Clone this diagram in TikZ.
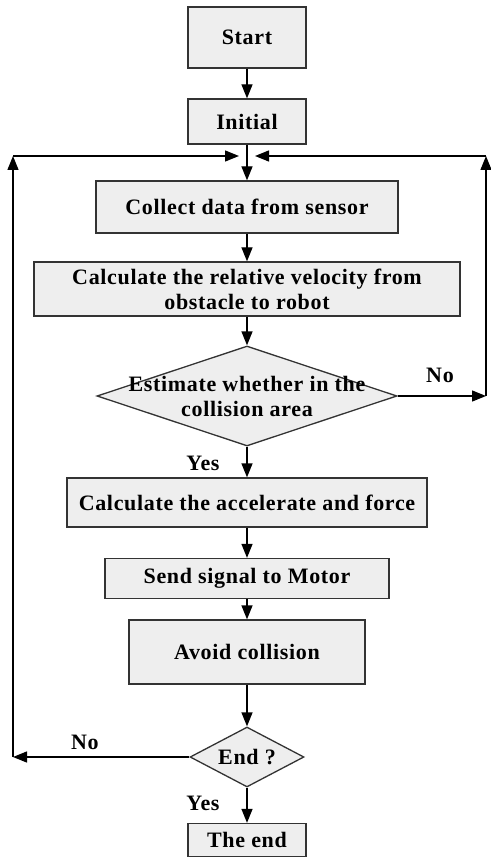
\documentclass[tikz,border=0pt]{standalone}
\usepackage{fontspec}
\setmainfont{Liberation Serif}[LetterSpace=3]
\usetikzlibrary{arrows.meta,shapes.geometric}
\definecolor{boxfill}{HTML}{EEEEEE}
\definecolor{edge}{HTML}{333333}
\tikzset{
  fc/.style={draw=edge, line width=1.3pt, fill=boxfill, inner sep=0pt, align=center,
             font=\fontsize{22}{25}\selectfont\bfseries},
  box/.style={fc, rectangle},
  decision/.style={fc, diamond},
  txt/.style={font=\fontsize{22}{25}\selectfont\bfseries, align=center, inner sep=0pt},
  arr/.style={line width=1.3pt, draw=black, -{Triangle[length=14pt,width=11pt]}},
  ln/.style={line width=1.3pt, draw=black}
}
\begin{document}
\begin{tikzpicture}[x=1pt,y=-1pt]
\useasboundingbox (0,0) rectangle (490,858);
\node[box, minimum width=118pt, minimum height=61pt] (start) at (247,37.5) {Start};
\node[box, minimum width=118pt, minimum height=45pt] (init) at (247,121.5) {Initial};
\node[box, minimum width=302pt, minimum height=52pt] (collect) at (247,207) {Collect data from sensor};
\node[box, minimum width=426pt, minimum height=54pt] (velo) at (247,289) {Calculate the relative velocity from\\obstacle to robot};
\node[decision, minimum width=300pt, minimum height=100pt] (dec1) at (247,396) {};
\node[txt] (dec1t) at (247,396) {Estimate whether in the\\collision area};
\node[box, minimum width=360pt, minimum height=49pt] (accel) at (247,502.5) {Calculate the accelerate and force};
\node[box, minimum width=284pt, minimum height=40pt] (send) at (247,578.5) {Send signal to Motor};
\node[box, minimum width=236pt, minimum height=64pt] (avoid) at (247,652) {Avoid collision};
\node[decision, minimum width=114pt, minimum height=60pt] (dec2) at (247,757) {};
\node[txt] (dec2t) at (247,757) {End ?};
\node[box, minimum width=118pt, minimum height=33pt] (theend) at (247,840) {The end};

\coordinate (m) at (247,156);
\coordinate (ml) at (239,156);
\coordinate (mr) at (255,156);
\coordinate (tl) at (13,156);
\coordinate (bl) at (13,757);
\coordinate (tr) at (486,156);
\coordinate (br) at (486,396);

\draw[arr] (start) -- (init);
\draw[arr] (init) -- (collect);
\draw[arr] (collect) -- (velo);
\draw[arr] (velo) -- (dec1);
\draw[arr] (dec1) -- (accel);
\draw[arr] (accel) -- (send);
\draw[arr] (send) -- (avoid);
\draw[arr] (avoid) -- (dec2);
\draw[arr] (dec2) -- (theend);

\draw[arr] (dec1.east) -- (br);
\draw[arr] (br) -- (tr);
\draw[arr] (tr) -- (mr);

\draw[arr] (dec2.west) -- (bl);
\draw[arr] (bl) -- (tl);
\draw[arr] (tl) -- (ml);

\node[txt] (no1) at (440,375) {No};
\node[txt] (yes1) at (203,463) {Yes};
\node[txt] (no2) at (85,742) {No};
\node[txt] (yes2) at (203,803) {Yes};
\end{tikzpicture}
\end{document}
